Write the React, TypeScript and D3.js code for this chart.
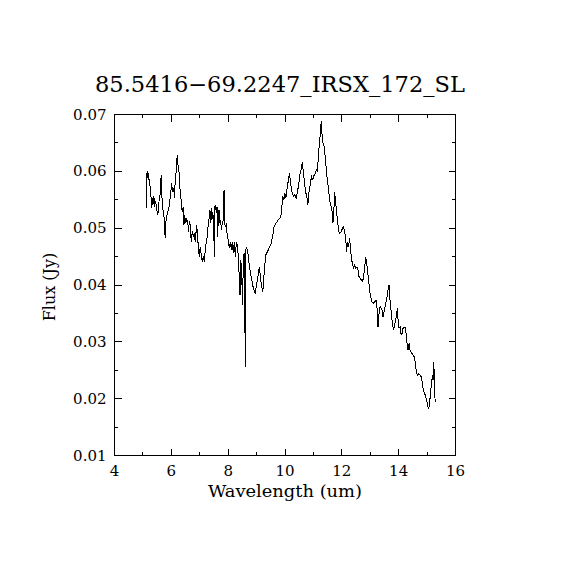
import React from 'react';
import * as d3 from 'd3';

const TITLE = '85.5416\u221269.2247_IRSX_172_SL';
const X_LABEL = 'Wavelength (um)';
const Y_LABEL = 'Flux (Jy)';

const X_TICKS = [4, 6, 8, 10, 12, 14, 16];
const X_MINOR = [5, 7, 9, 11, 13, 15];
const Y_TICKS = [0.01, 0.02, 0.03, 0.04, 0.05, 0.06, 0.07];
const Y_MINOR = [0.015, 0.025, 0.035, 0.045, 0.055, 0.065];

const wavelength = [
  5.114, 5.12, 5.149, 5.174, 5.199, 5.22, 5.245, 5.28, 5.305, 5.326,
  5.35, 5.386, 5.41, 5.446, 5.481, 5.516, 5.551, 5.573, 5.608, 5.643,
  5.678, 5.714, 5.749, 5.784, 5.809, 5.844, 5.879, 5.915, 5.95, 5.975,
  6.01, 6.045, 6.08, 6.116, 6.137, 6.161, 6.186, 6.207, 6.232, 6.257,
  6.278, 6.302, 6.338, 6.363, 6.398, 6.419, 6.444, 6.468, 6.504, 6.539,
  6.574, 6.609, 6.63, 6.666, 6.701, 6.736, 6.772, 6.807, 6.842, 6.891,
  6.927, 6.948, 6.983, 7.018, 7.054, 7.089, 7.124, 7.159, 7.195, 7.23,
  7.265, 7.3, 7.325, 7.36, 7.385, 7.406, 7.431, 7.456, 7.491, 7.512,
  7.537, 7.561, 7.582, 7.607, 7.632, 7.653, 7.678, 7.702, 7.738, 7.759,
  7.794, 7.829, 7.854, 7.879, 7.9, 7.935, 7.97, 8.006, 8.041, 8.076,
  8.111, 8.147, 8.182, 8.217, 8.252, 8.288, 8.323, 8.358, 8.394, 8.418,
  8.443, 8.478, 8.499, 8.535, 8.559, 8.584, 8.605, 8.619, 8.654, 8.69,
  8.736, 8.781, 8.831, 8.887, 8.947, 9.028, 9.099, 9.159, 9.219, 9.275,
  9.324, 9.416, 9.511, 9.571, 9.617, 9.688, 9.769, 9.853, 9.889, 9.924,
  9.959, 9.994, 10.03, 10.065, 10.111, 10.157, 10.206, 10.252, 10.298, 10.347,
  10.393, 10.439, 10.488, 10.534, 10.58, 10.615, 10.65, 10.686, 10.721, 10.77,
  10.805, 10.841, 10.886, 10.932, 10.982, 11.028, 11.073, 11.109, 11.144, 11.179,
  11.214, 11.25, 11.274, 11.299, 11.334, 11.38, 11.426, 11.475, 11.521, 11.567,
  11.592, 11.652, 11.687, 11.722, 11.743, 11.779, 11.814, 11.849, 11.884, 11.934,
  11.98, 12.025, 12.061, 12.096, 12.131, 12.167, 12.202, 12.237, 12.272, 12.308,
  12.343, 12.378, 12.413, 12.449, 12.484, 12.533, 12.568, 12.604, 12.65, 12.685,
  12.731, 12.766, 12.801, 12.837, 12.872, 12.907, 12.942, 12.978, 13.013, 13.062,
  13.108, 13.154, 13.203, 13.238, 13.274, 13.309, 13.344, 13.38, 13.415, 13.45,
  13.485, 13.521, 13.556, 13.591, 13.626, 13.662, 13.697, 13.732, 13.767, 13.813,
  13.848, 13.884, 13.919, 13.954, 13.979, 14.014, 14.05, 14.085, 14.12, 14.155,
  14.191, 14.226, 14.261, 14.297, 14.332, 14.367, 14.402, 14.438, 14.473, 14.519,
  14.554, 14.589, 14.624, 14.66, 14.706, 14.755, 14.8, 14.836, 14.871, 14.906,
  14.941, 14.977, 15.012, 15.047, 15.082, 15.118, 15.153, 15.188, 15.213, 15.234,
  15.259, 15.283,
];

const flux = [
  0.0535, 0.0582, 0.06, 0.0589, 0.0597, 0.0582, 0.0576, 0.0559, 0.0536, 0.0553,
  0.0541, 0.0556, 0.0538, 0.0547, 0.0535, 0.0523, 0.0532, 0.0553, 0.0559, 0.0594,
  0.0545, 0.0529, 0.0518, 0.0482, 0.0512, 0.0523, 0.0529, 0.0535, 0.055, 0.0559,
  0.0579, 0.0564, 0.057, 0.0553, 0.0588, 0.0594, 0.0612, 0.0629, 0.0612, 0.0606,
  0.0594, 0.057, 0.0553, 0.0535, 0.0529, 0.0538, 0.0506, 0.0523, 0.0509, 0.0515,
  0.0512, 0.0494, 0.0512, 0.0506, 0.0476, 0.0494, 0.0485, 0.0491, 0.0476, 0.0506,
  0.0485, 0.0467, 0.045, 0.0467, 0.0453, 0.0441, 0.045, 0.0441, 0.0462, 0.0476,
  0.0485, 0.0509, 0.0515, 0.0532, 0.0509, 0.0535, 0.0515, 0.0529, 0.0509, 0.045,
  0.0538, 0.0541, 0.0526, 0.0538, 0.0485, 0.052, 0.0532, 0.0509, 0.0515, 0.0497,
  0.0509, 0.0515, 0.0567, 0.0509, 0.0503, 0.0506, 0.0485, 0.0479, 0.0465, 0.0476,
  0.0462, 0.0476, 0.0456, 0.0476, 0.045, 0.0476, 0.047, 0.045, 0.0409, 0.0382,
  0.0444, 0.0426, 0.0365, 0.0438, 0.0456, 0.0362, 0.0256, 0.0462, 0.0465, 0.0459,
  0.0438, 0.0421, 0.0409, 0.0394, 0.0385, 0.0409, 0.0432, 0.0403, 0.0388, 0.0426,
  0.0453, 0.0462, 0.0473, 0.0488, 0.0503, 0.0509, 0.0515, 0.052, 0.0538, 0.0556,
  0.055, 0.0562, 0.0553, 0.0567, 0.0582, 0.0597, 0.0576, 0.0562, 0.0556, 0.0559,
  0.0553, 0.0564, 0.0579, 0.0597, 0.0606, 0.0617, 0.0594, 0.0582, 0.0564, 0.0556,
  0.0541, 0.0562, 0.0576, 0.0591, 0.0585, 0.0594, 0.0597, 0.0603, 0.06, 0.0632,
  0.065, 0.067, 0.0688, 0.0667, 0.065, 0.0644, 0.062, 0.0591, 0.0573, 0.0553,
  0.0544, 0.0532, 0.0509, 0.0532, 0.0564, 0.055, 0.0526, 0.0515, 0.0494, 0.0491,
  0.0494, 0.05, 0.0503, 0.0494, 0.0485, 0.0459, 0.0476, 0.0467, 0.0482, 0.0462,
  0.0444, 0.0438, 0.0429, 0.0435, 0.0429, 0.0432, 0.0426, 0.0415, 0.0412, 0.0409,
  0.0406, 0.0415, 0.0429, 0.045, 0.0441, 0.0423, 0.0409, 0.0391, 0.0379, 0.037,
  0.0368, 0.037, 0.0373, 0.0359, 0.0326, 0.035, 0.0362, 0.0359, 0.0356, 0.0344,
  0.0353, 0.0362, 0.037, 0.0379, 0.0391, 0.04, 0.0373, 0.0356, 0.0338, 0.0321,
  0.0326, 0.0338, 0.0344, 0.0359, 0.0338, 0.0324, 0.0326, 0.0312, 0.0315, 0.0324,
  0.0326, 0.0326, 0.0315, 0.0297, 0.0285, 0.0297, 0.0285, 0.0282, 0.0279, 0.0276,
  0.0273, 0.0262, 0.0247, 0.0241, 0.0244, 0.0241, 0.0238, 0.0226, 0.0215, 0.0209,
  0.0206, 0.0197, 0.0191, 0.0182, 0.0188, 0.0209, 0.0226, 0.0241, 0.0232, 0.0265,
  0.0232, 0.0194,
];

const FONT = '"DejaVu Serif", "Liberation Serif", serif';

export default function App() {
  const left = 114.5;
  const right = 455.5;
  const top = 114.5;
  const bottom = 455.5;

  const x = d3.scaleLinear().domain([4, 16]).range([left, right]);
  const y = d3.scaleLinear().domain([0.01, 0.07]).range([bottom, top]);

  const pts: [number, number][] = wavelength.map((w, i) => [w, flux[i]]);
  const line = d3
    .line<[number, number]>()
    .x((d) => x(d[0]))
    .y((d) => y(d[1]));

  const major = 7;
  const minor = 3.5;

  return (
    <div style={{ position: 'absolute', left: 0, top: 0 }}>
      <svg width={570} height={570} style={{ display: 'block', background: '#fff' }}>
        <rect x={0} y={0} width={570} height={570} fill="#fff" />

        <text
          x={280}
          y={92}
          textAnchor="middle"
          fontFamily={FONT}
          fontSize={22}
          textLength={370}
          lengthAdjust="spacingAndGlyphs"
          fill="#000"
        >
          {TITLE}
        </text>

        <rect
          x={left}
          y={top}
          width={right - left}
          height={bottom - top}
          fill="none"
          stroke="#000"
          strokeWidth={1}
          shapeRendering="crispEdges"
        />

        <g stroke="#000" strokeWidth={1} shapeRendering="crispEdges">
          {X_TICKS.map((t) => (
            <g key={'xt' + t}>
              <line x1={x(t)} x2={x(t)} y1={bottom} y2={bottom - major} />
              <line x1={x(t)} x2={x(t)} y1={top} y2={top + major} />
            </g>
          ))}
          {X_MINOR.map((t) => (
            <g key={'xm' + t}>
              <line x1={x(t)} x2={x(t)} y1={bottom} y2={bottom - minor} />
              <line x1={x(t)} x2={x(t)} y1={top} y2={top + minor} />
            </g>
          ))}
          {Y_TICKS.map((t) => (
            <g key={'yt' + t}>
              <line x1={left} x2={left + major} y1={y(t)} y2={y(t)} />
              <line x1={right} x2={right - major} y1={y(t)} y2={y(t)} />
            </g>
          ))}
          {Y_MINOR.map((t) => (
            <g key={'ym' + t}>
              <line x1={left} x2={left + minor} y1={y(t)} y2={y(t)} />
              <line x1={right} x2={right - minor} y1={y(t)} y2={y(t)} />
            </g>
          ))}
        </g>

        <g fontFamily={FONT} fontSize={15} fill="#000">
          {X_TICKS.map((t) => (
            <text key={'xl' + t} x={x(t)} y={bottom + 20} textAnchor="middle">
              {String(t)}
            </text>
          ))}
          {Y_TICKS.map((t) => (
            <text key={'yl' + t} x={left - 8} y={y(t) + 5} textAnchor="end">
              {t.toFixed(2)}
            </text>
          ))}
        </g>

        <text
          x={285}
          y={497}
          textAnchor="middle"
          fontFamily={FONT}
          fontSize={16}
          textLength={154}
          lengthAdjust="spacingAndGlyphs"
          fill="#000"
        >
          {X_LABEL}
        </text>
        <text
          transform={`translate(55, 287) rotate(-90)`}
          textAnchor="middle"
          fontFamily={FONT}
          fontSize={16}
          fill="#000"
        >
          {Y_LABEL}
        </text>

        <path
          d={line(pts) || ''}
          fill="none"
          stroke="#000"
          strokeWidth={1}
          shapeRendering="crispEdges"
        />
      </svg>
    </div>
  );
}
